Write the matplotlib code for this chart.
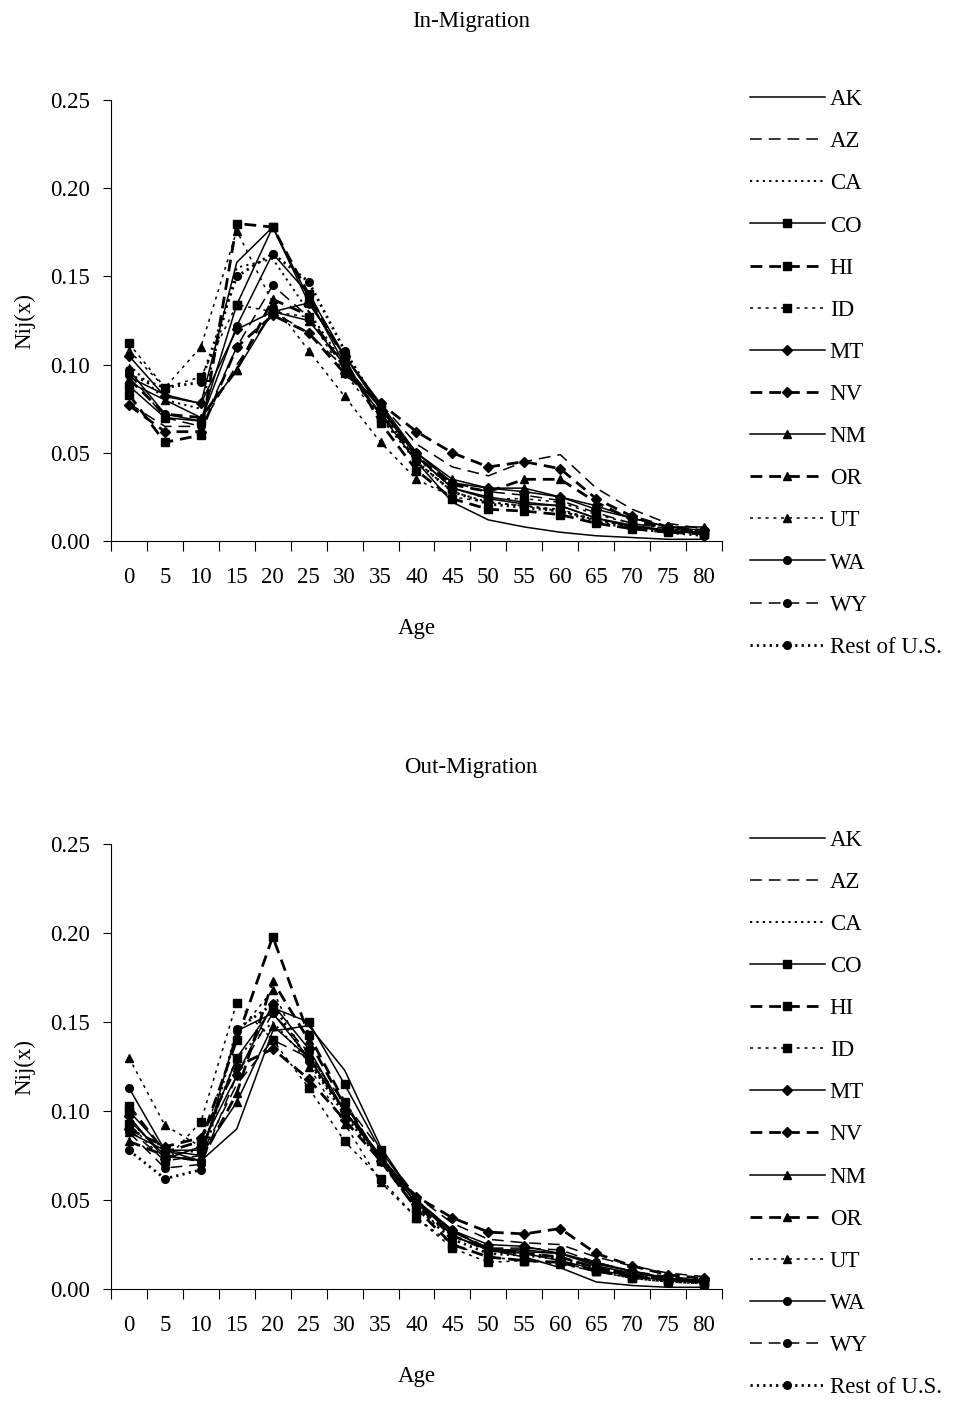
import matplotlib
matplotlib.use('Agg')
import matplotlib.pyplot as plt
import numpy as np

plt.rcParams['font.family'] = ['Liberation Serif', 'DejaVu Serif']
plt.rcParams['lines.scale_dashes'] = False

ages = ['0', '5', '10', '15', '20', '25', '30', '35', '40', '45', '50', '55', '60', '65', '70', '75', '80']
states = ['AK', 'AZ', 'CA', 'CO', 'HI', 'ID', 'MT', 'NV', 'NM', 'OR', 'UT', 'WA', 'WY', 'Rest of U.S.']

# in-migration rates by age group
in_ak = [0.093, 0.083, 0.078, 0.158, 0.178, 0.138, 0.100, 0.072, 0.045, 0.022, 0.012, 0.008, 0.005, 0.003, 0.002, 0.001, 0.001]
in_az = [0.078, 0.065, 0.065, 0.100, 0.130, 0.118, 0.098, 0.078, 0.055, 0.042, 0.037, 0.045, 0.049, 0.030, 0.018, 0.010, 0.007]
in_ca = [0.100, 0.080, 0.075, 0.155, 0.160, 0.130, 0.100, 0.070, 0.045, 0.028, 0.022, 0.020, 0.017, 0.012, 0.008, 0.006, 0.004]
in_co = [0.088, 0.070, 0.068, 0.134, 0.178, 0.135, 0.105, 0.075, 0.048, 0.030, 0.025, 0.022, 0.020, 0.013, 0.009, 0.006, 0.004]
in_hi = [0.083, 0.056, 0.060, 0.180, 0.178, 0.140, 0.103, 0.067, 0.040, 0.024, 0.018, 0.017, 0.015, 0.010, 0.007, 0.005, 0.004]
in_id = [0.112, 0.087, 0.093, 0.134, 0.130, 0.127, 0.095, 0.070, 0.047, 0.030, 0.024, 0.024, 0.022, 0.015, 0.010, 0.007, 0.005]
in_mt = [0.105, 0.082, 0.078, 0.120, 0.130, 0.135, 0.105, 0.078, 0.050, 0.033, 0.030, 0.028, 0.025, 0.018, 0.013, 0.008, 0.006]
in_nv = [0.077, 0.062, 0.062, 0.110, 0.128, 0.118, 0.095, 0.078, 0.062, 0.050, 0.042, 0.045, 0.041, 0.024, 0.014, 0.008, 0.006]
in_nm = [0.090, 0.080, 0.070, 0.097, 0.130, 0.125, 0.100, 0.075, 0.050, 0.035, 0.030, 0.030, 0.025, 0.020, 0.013, 0.008, 0.008]
in_or = [0.092, 0.072, 0.070, 0.097, 0.137, 0.128, 0.098, 0.072, 0.048, 0.032, 0.028, 0.035, 0.035, 0.022, 0.012, 0.007, 0.005]
in_ut = [0.108, 0.087, 0.110, 0.176, 0.135, 0.108, 0.082, 0.056, 0.035, 0.025, 0.022, 0.020, 0.018, 0.012, 0.008, 0.006, 0.005]
in_wa = [0.097, 0.072, 0.068, 0.122, 0.163, 0.140, 0.105, 0.077, 0.048, 0.030, 0.024, 0.021, 0.020, 0.013, 0.008, 0.006, 0.005]
in_wy = [0.095, 0.070, 0.065, 0.110, 0.145, 0.127, 0.100, 0.075, 0.050, 0.033, 0.028, 0.026, 0.023, 0.016, 0.010, 0.007, 0.006]
in_rest = [0.094, 0.087, 0.090, 0.150, 0.163, 0.147, 0.108, 0.075, 0.045, 0.028, 0.021, 0.019, 0.017, 0.011, 0.007, 0.005, 0.003]

# out-migration rates by age group
out_ak = [0.095, 0.075, 0.072, 0.090, 0.145, 0.148, 0.123, 0.080, 0.050, 0.030, 0.022, 0.018, 0.012, 0.004, 0.002, 0.001, 0.001]
out_az = [0.090, 0.072, 0.075, 0.115, 0.140, 0.130, 0.105, 0.078, 0.052, 0.037, 0.028, 0.026, 0.025, 0.018, 0.013, 0.009, 0.007]
out_ca = [0.095, 0.075, 0.078, 0.130, 0.150, 0.128, 0.100, 0.072, 0.045, 0.030, 0.022, 0.020, 0.018, 0.012, 0.008, 0.005, 0.004]
out_co = [0.100, 0.078, 0.078, 0.130, 0.158, 0.150, 0.115, 0.078, 0.050, 0.030, 0.022, 0.020, 0.016, 0.011, 0.007, 0.005, 0.004]
out_hi = [0.103, 0.077, 0.083, 0.140, 0.198, 0.143, 0.105, 0.072, 0.045, 0.025, 0.018, 0.016, 0.015, 0.010, 0.007, 0.005, 0.004]
out_id = [0.093, 0.072, 0.094, 0.161, 0.140, 0.113, 0.083, 0.062, 0.040, 0.023, 0.015, 0.016, 0.015, 0.010, 0.006, 0.004, 0.003]
out_mt = [0.097, 0.073, 0.080, 0.120, 0.160, 0.135, 0.100, 0.075, 0.048, 0.033, 0.025, 0.024, 0.020, 0.014, 0.010, 0.006, 0.005]
out_nv = [0.090, 0.080, 0.085, 0.125, 0.135, 0.118, 0.095, 0.072, 0.052, 0.040, 0.032, 0.031, 0.034, 0.020, 0.013, 0.008, 0.006]
out_nm = [0.088, 0.078, 0.075, 0.105, 0.148, 0.130, 0.100, 0.075, 0.050, 0.033, 0.022, 0.022, 0.020, 0.015, 0.010, 0.006, 0.005]
out_or = [0.083, 0.075, 0.072, 0.110, 0.173, 0.140, 0.103, 0.073, 0.047, 0.030, 0.022, 0.020, 0.018, 0.012, 0.008, 0.005, 0.004]
out_ut = [0.130, 0.092, 0.080, 0.143, 0.168, 0.125, 0.093, 0.060, 0.040, 0.025, 0.018, 0.016, 0.014, 0.010, 0.006, 0.004, 0.003]
out_wa = [0.113, 0.078, 0.072, 0.145, 0.155, 0.130, 0.100, 0.073, 0.048, 0.032, 0.023, 0.021, 0.020, 0.013, 0.009, 0.006, 0.004]
out_wy = [0.088, 0.068, 0.070, 0.120, 0.155, 0.133, 0.100, 0.075, 0.050, 0.033, 0.023, 0.023, 0.022, 0.015, 0.010, 0.007, 0.005]
out_rest = [0.078, 0.062, 0.067, 0.146, 0.160, 0.128, 0.098, 0.072, 0.045, 0.028, 0.020, 0.019, 0.017, 0.012, 0.008, 0.005, 0.004]

in_data = [in_ak, in_az, in_ca, in_co, in_hi, in_id, in_mt, in_nv, in_nm, in_or, in_ut, in_wa, in_wy, in_rest]
out_data = [out_ak, out_az, out_ca, out_co, out_hi, out_id, out_mt, out_nv, out_nm, out_or, out_ut, out_wa, out_wy, out_rest]

# (linestyle, marker, linewidth) per state, Excel style; dashes in points
solid = '-'
dash = (0, (8.5, 5))
dot = (0, (1.6, 3.0))
sdot = (0, (2.2, 3.4))
styles = [
    (solid, None, 1.1), (dash, None, 1.1), (dot, None, 1.4),
    (solid, 's', 1.1), (dash, 's', 2.0), (sdot, 's', 1.1),
    (solid, 'D', 1.1), (dash, 'D', 2.0), (solid, '^', 1.1),
    (dash, '^', 2.0), (sdot, '^', 1.1), (solid, 'o', 1.1),
    (dash, 'o', 1.1), (dot, 'o', 2.0),
]
msizes = {'s': 5.5, 'D': 5, '^': 6, 'o': 5.5, None: 0}

fs = 16.5
fig = plt.figure(figsize=(9.61, 14.01), dpi=100)
ax1 = fig.add_axes([0.1155, 0.6138, 0.6358, 0.3148])
ax2 = fig.add_axes([0.1155, 0.0799, 0.6358, 0.3176])

x = np.arange(len(ages))
for ax, data, title, ty, leg_top in [(ax1, in_data, 'In-Migration', 0.9843, 0.9364),
                                     (ax2, out_data, 'Out-Migration', 0.4522, 0.4079)]:
    for vals, name, (ls, mk, lw) in zip(data, states, styles):
        ax.plot(x, vals, color='black', linestyle=ls, linewidth=lw, marker=mk,
                markersize=msizes[mk], markerfacecolor='black', markeredgecolor='black',
                label=name)
    ax.set_xlim(-0.5, len(ages) - 0.5)
    ax.set_ylim(0, 0.25)
    ax.set_yticks(np.arange(0, 0.2501, 0.05))
    ax.set_yticklabels(['%.2f' % v for v in np.arange(0, 0.2501, 0.05)], fontsize=fs)
    ax.set_xticks(x)
    ax.set_xticklabels(ages, fontsize=fs)
    ax.set_xticks(np.arange(-0.5, len(ages) + 0.5, 1), minor=True)
    ax.tick_params(axis='x', which='major', length=0, pad=19)
    ax.tick_params(axis='x', which='minor', length=7, direction='out', width=0.8)
    ax.tick_params(axis='y', length=6, width=0.8, direction='out', pad=9)
    for s in ['top', 'right']:
        ax.spines[s].set_visible(False)
    for s in ['left', 'bottom']:
        ax.spines[s].set_linewidth(0.8)
    ax.set_xlabel('Age', fontsize=fs, labelpad=21)
    ax.set_ylabel('Nij(x)', fontsize=fs, labelpad=11)
    fig.text(0.49, ty, title, fontsize=fs, ha='center', va='center')
    fig.legend(handles=ax.get_lines(), loc='upper left', bbox_to_anchor=(0.780, leg_top),
               frameon=False, fontsize=fs, handlelength=3.3, handletextpad=0.2,
               labelspacing=0.92, borderaxespad=0, borderpad=0)

fig.savefig('out.png', dpi=100)
